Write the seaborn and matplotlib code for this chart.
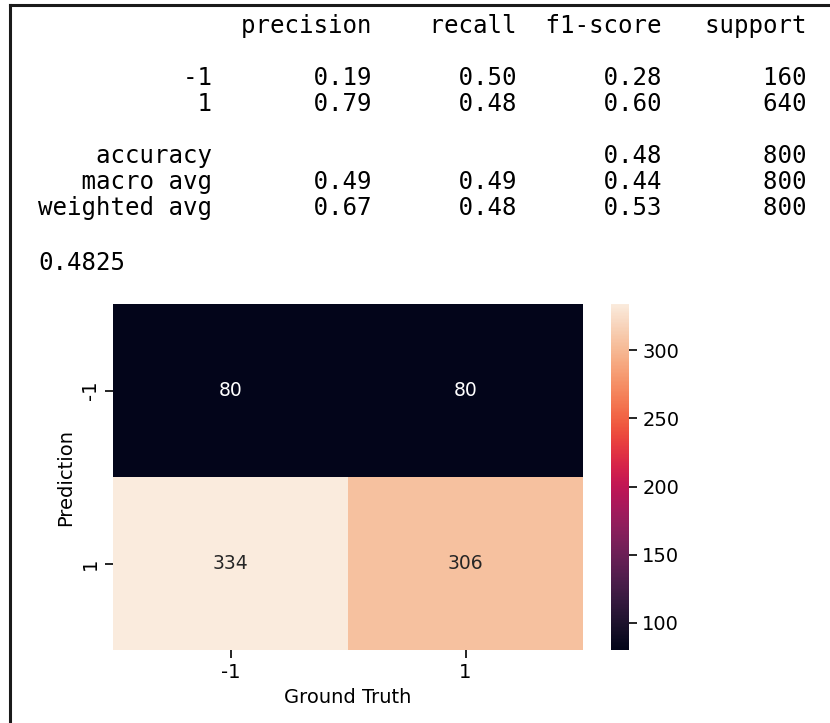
import matplotlib
matplotlib.use('Agg')
import matplotlib.pyplot as plt
from matplotlib.lines import Line2D
import numpy as np
import seaborn as sns

# classification report values
class_labels = ['-1', '1']
headers = ['precision', 'recall', 'f1-score', 'support']
precision = [0.19, 0.79]
recall = [0.50, 0.48]
f1_score = [0.28, 0.60]
support = [160, 640]
accuracy = 0.48
macro_avg = [0.49, 0.49, 0.44]
weighted_avg = [0.67, 0.48, 0.53]
total_support = 800
accuracy_score = 0.4825

# confusion matrix (rows: prediction, cols: ground truth)
conf_matrix = [[80, 80],
               [334, 306]]


# build the text report the way sklearn prints it
def build_report():
    width = 12
    lines = [f"{'':>{width}s} " + ''.join(f" {h:>9}" for h in headers), '']
    for lab, p, r, f, s in zip(class_labels, precision, recall, f1_score, support):
        lines.append(f"{lab:>{width}s} " + f" {p:>9.2f} {r:>9.2f} {f:>9.2f} {s:>9}")
    lines.append('')
    lines.append(f"{'accuracy':>{width}s} " + f" {'':>9} {'':>9} {accuracy:>9.2f} {total_support:>9}")
    for name, vals in [('macro avg', macro_avg), ('weighted avg', weighted_avg)]:
        lines.append(f"{name:>{width}s} " + ''.join(f" {v:>9.2f}" for v in vals) + f" {total_support:>9}")
    return lines


W, H = 830, 723
fig = plt.figure(figsize=(W / 100, H / 100), dpi=100)

# report text
mono = {'family': 'DejaVu Sans Mono', 'size': 17.4}
for i, line in enumerate(build_report()):
    fig.text(38 / W, 1 - (33 + i * 26) / H, line, va='baseline', ha='left', **mono)
fig.text(38 / W, 1 - 270 / H, f"{accuracy_score}", va='baseline', ha='left', **mono)

# heatmap
ax = fig.add_axes([113 / W, 1 - 650 / H, (583 - 113) / W, 346 / H])
cax = fig.add_axes([611 / W, 1 - 650 / H, 18 / W, 346 / H])
sns.heatmap(np.array(conf_matrix), annot=True, fmt='d', ax=ax, cbar_ax=cax,
            xticklabels=class_labels, yticklabels=class_labels,
            annot_kws={'size': 13.5})
ax.set_xlabel('Ground Truth', fontsize=14)
ax.set_ylabel('Prediction', fontsize=14)
ax.tick_params(labelsize=14, length=6, width=1.2)
cax.tick_params(labelsize=14, length=6, width=1.2)

# screenshot frame (top and left edges)
fig.add_artist(Line2D([10 / W, 1.0], [1 - 4.5 / H, 1 - 4.5 / H], color='#1a1a1a', lw=2.2))
fig.add_artist(Line2D([10 / W, 10 / W], [0.0, 1 - 4.5 / H], color='#1a1a1a', lw=2.2))

fig.savefig('out.png', dpi=100)
